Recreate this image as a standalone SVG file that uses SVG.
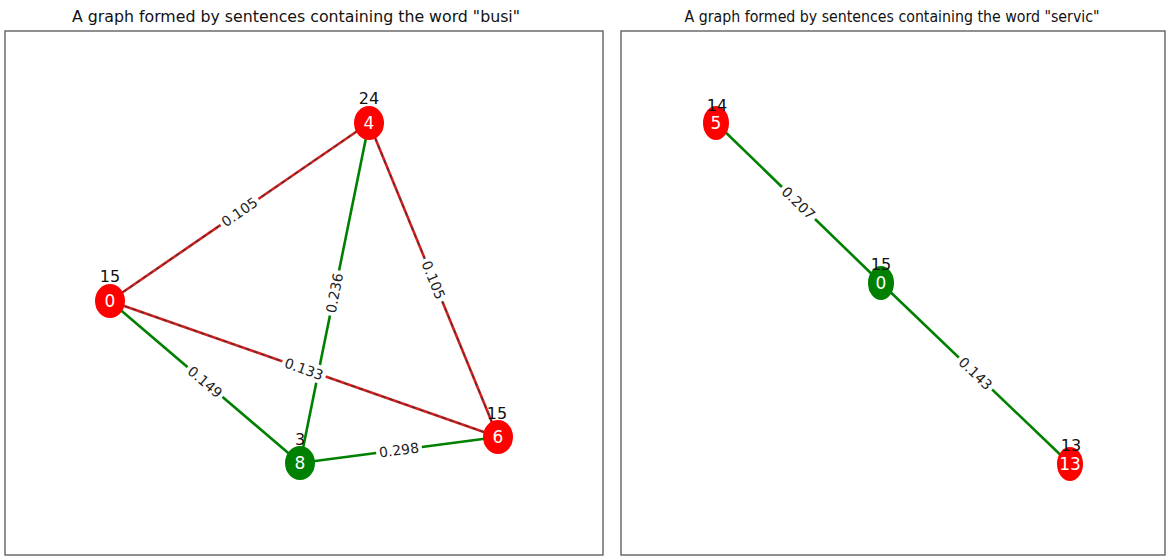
<svg xmlns="http://www.w3.org/2000/svg" width="1168" height="558" viewBox="0 0 1168 558">
<style>
.frame{fill:#fff;stroke:#555;stroke-width:1.3}
.title{font-family:"DejaVu Sans Condensed","DejaVu Sans",sans-serif;font-size:16px;fill:#111;text-anchor:middle}
.eg{stroke:#008000;stroke-width:2.6;fill:none}
.er{stroke:#d62020;stroke-width:2.6;fill:none}
.ed{stroke:#333;stroke-width:1.2;stroke-dasharray:4 4;fill:none;opacity:0.85}
.red{fill:#ff0000}
.green{fill:#008000}
.nl{font-family:"DejaVu Sans",sans-serif;font-size:17px;fill:#fff;text-anchor:middle;dominant-baseline:central}
.dl{font-family:"DejaVu Sans",sans-serif;font-size:16px;fill:#111;text-anchor:middle}
.lb{fill:#fff}
.lt{font-family:"DejaVu Sans",sans-serif;font-size:14px;fill:#222;text-anchor:middle;dominant-baseline:central}
</style>
<rect width="1168" height="558" fill="#fff"/>
<g id="panel-left">
<rect class="frame" x="5" y="31" width="598" height="524"/>
<text class="title" x="296" y="22" textLength="448" lengthAdjust="spacingAndGlyphs">A graph formed by sentences containing the word "busi"</text>
</g>
<g id="panel-right">
<rect class="frame" x="621" y="31" width="544" height="524"/>
<text class="title" x="892" y="22" textLength="415" lengthAdjust="spacingAndGlyphs">A graph formed by sentences containing the word "servic"</text>
</g>
<g id="connectors">
<line class="er" x1="110" y1="301" x2="369" y2="123"/>
<line class="ed" x1="110" y1="301" x2="369" y2="123"/>
<line class="er" x1="369" y1="123" x2="498" y2="437"/>
<line class="ed" x1="369" y1="123" x2="498" y2="437"/>
<line class="er" x1="110" y1="301" x2="498" y2="437"/>
<line class="ed" x1="110" y1="301" x2="498" y2="437"/>
<line class="eg" x1="369" y1="123" x2="300" y2="463"/>
<line class="eg" x1="110" y1="301" x2="300" y2="463"/>
<line class="eg" x1="300" y1="463" x2="498" y2="437"/>
<line class="eg" x1="716" y1="123" x2="881" y2="283"/>
<line class="eg" x1="881" y1="283" x2="1070" y2="464"/>
<g transform="translate(239.5,212) rotate(-34.5)"><rect class="lb" x="-23" y="-9" width="46" height="18"/><text class="lt">0.105</text></g>
<g transform="translate(334.5,293) rotate(-78.5)"><rect class="lb" x="-23" y="-9" width="46" height="18"/><text class="lt">0.236</text></g>
<g transform="translate(433.5,280) rotate(67.7)"><rect class="lb" x="-23" y="-9" width="46" height="18"/><text class="lt">0.105</text></g>
<g transform="translate(304,369) rotate(19.3)"><rect class="lb" x="-23" y="-9" width="46" height="18"/><text class="lt">0.133</text></g>
<g transform="translate(205,382) rotate(40.5)"><rect class="lb" x="-23" y="-9" width="46" height="18"/><text class="lt">0.149</text></g>
<g transform="translate(399,450) rotate(-7.5)"><rect class="lb" x="-23" y="-9" width="46" height="18"/><text class="lt">0.298</text></g>
<g transform="translate(798.5,203) rotate(44)"><rect class="lb" x="-23" y="-9" width="46" height="18"/><text class="lt">0.207</text></g>
<g transform="translate(975.5,373.5) rotate(43.8)"><rect class="lb" x="-23" y="-9" width="46" height="18"/><text class="lt">0.143</text></g>
</g>
<g id="node-busi-4">
<ellipse class="red" cx="369" cy="123" rx="15" ry="17"/>
<text class="nl" x="369" y="123">4</text>
<text class="dl" x="369" y="104">24</text>
</g>
<g id="node-busi-0">
<ellipse class="red" cx="110" cy="301" rx="15" ry="17"/>
<text class="nl" x="110" y="301">0</text>
<text class="dl" x="110" y="282">15</text>
</g>
<g id="node-busi-8">
<ellipse class="green" cx="300" cy="463" rx="15" ry="17"/>
<text class="nl" x="300" y="463">8</text>
<text class="dl" x="300" y="445">3</text>
</g>
<g id="node-busi-6">
<ellipse class="red" cx="498" cy="437" rx="15" ry="17"/>
<text class="nl" x="498" y="437">6</text>
<text class="dl" x="497" y="419">15</text>
</g>
<g id="node-servic-5">
<ellipse class="red" cx="716" cy="123" rx="13" ry="17"/>
<text class="nl" x="716" y="123">5</text>
<text class="dl" x="717" y="111">14</text>
</g>
<g id="node-servic-0">
<ellipse class="green" cx="881" cy="283" rx="13" ry="17"/>
<text class="nl" x="881" y="283">0</text>
<text class="dl" x="881" y="270">15</text>
</g>
<g id="node-servic-13">
<ellipse class="red" cx="1070" cy="464" rx="13" ry="17"/>
<text class="nl" x="1070" y="464">13</text>
<text class="dl" x="1071" y="451">13</text>
</g>
</svg>
